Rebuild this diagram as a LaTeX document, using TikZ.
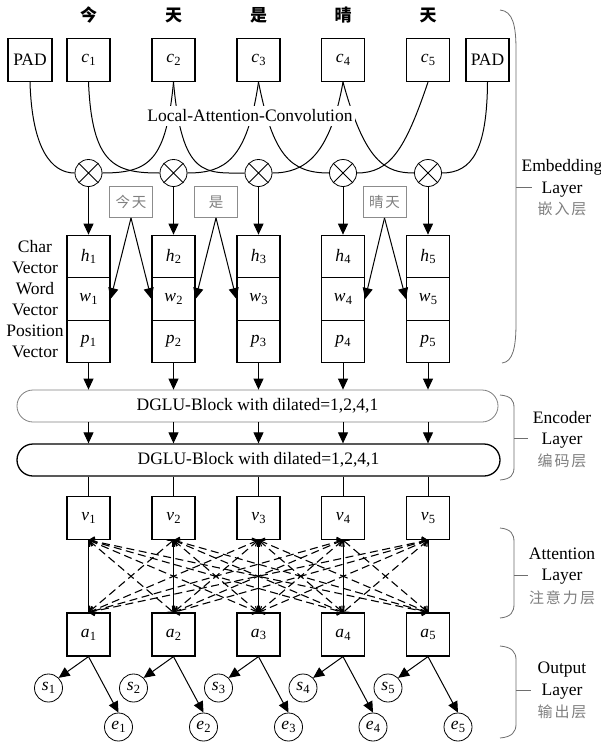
\documentclass[tikz,border=0pt]{standalone}
\usepackage{fontspec}
\setmainfont{Liberation Serif}
\newfontfamily\cjk{Noto Sans CJK SC}
\usetikzlibrary{arrows.meta}
\definecolor{gtxt}{HTML}{7F7F7F}
\definecolor{gbox}{HTML}{8C8C8C}
\definecolor{brc}{HTML}{6E6E6E}
\newcommand\vsub[2]{\textit{#1}\kern0.2pt\raisebox{-0.35ex}{\fontsize{12.5}{12.5}\selectfont #2}}
\begin{document}
\begin{tikzpicture}[x=1pt,y=-1pt,
 font=\fontsize{17.5}{20}\selectfont,
 every node/.style={inner sep=0pt},
 box/.style={draw, line width=1.2pt, minimum width=43pt, minimum height=43pt},
 cell/.style={draw, line width=1.2pt, minimum width=43pt, minimum height=42.5pt},
 gbx/.style={draw=gbox, line width=0.9pt, text=gtxt, minimum width=43pt, minimum height=31pt, font=\cjk\fontsize{14.5}{16}\selectfont},
 ln/.style={line width=1pt},
 arr/.style={line width=1pt, arrows={-Triangle[length=11pt,width=10pt]}},
 dsh/.style={line width=1.1pt, dash pattern=on 8pt off 4.5pt, arrows={Straight Barb[length=4.5pt,width=9pt]-Straight Barb[length=4.5pt,width=9pt]}},
 mul/.style={draw, circle, line width=0.8pt, minimum size=27pt},
 blk/.style={draw, rounded corners=16pt, minimum height=32pt},
 dot/.style={draw, circle, line width=0.8pt, minimum size=28pt},
 bracestyle/.style={draw=brc, line width=0.8pt},
 lab/.style={anchor=base},
 clab/.style={anchor=base, text=gtxt, font=\cjk\fontsize{15}{17}\selectfont},
]
\path[fill=white] (0,0) rectangle (601,742);
\useasboundingbox (0,0) rectangle (601,742);

% top characters
\foreach \i/\x/\ch in {1/88.5/今,2/173.5/天,3/258.5/是,4/343/晴,5/428/天}
  \node[font=\cjk\bfseries\fontsize{17}{17}\selectfont] (t\i) at (\x,15) {\ch};

% input boxes
\node[box, minimum width=44pt] (padL) at (30,60) {PAD};
\node[box] (padR) at (487.5,60) {PAD};
\foreach \i/\x in {1/88.5,2/173.5,3/258.5,4/343,5/428}{
  \node[box] (c\i) at (\x,60) {\vsub{c}{\i}};
  \node[mul] (m\i) at (\x,173) {};
  \draw[line width=0.8pt] (m\i.north west) -- (m\i.south east) (m\i.north east) -- (m\i.south west);
  \node[cell] (h\i) at (\x,256.5) {\vsub{h}{\i}};
  \node[cell] (w\i) at (\x,299) {\vsub{w}{\i}};
  \node[cell] (p\i) at (\x,341.5) {\vsub{p}{\i}};
  \draw[arr] (m\i.south) -- (h\i.north);
}

% local attention convolution curves
\draw[ln] (padL.south) .. controls (32,150) and (52,173) .. (m1.west);
\draw[ln] (c1.south) .. controls (92,165) and (115,173) .. (m2.west);
\draw[ln] (c2.south) .. controls (166,160) and (150,173) .. (m1.east);
\draw[ln] (c2.south) .. controls (182,178) and (205,173) .. (m3.west);
\draw[ln] (c3.south) .. controls (247,160) and (225,173) .. (m2.east);
\draw[ln] (c3.south) .. controls (273,155) and (290,173) .. (m4.west);
\draw[ln] (c4.south) .. controls (330,155) and (305,173) .. (m3.east);
\draw[ln] (c4.south) .. controls (365,162) and (385,173) .. (m5.west);
\draw[ln] (c5.south) .. controls (405,150) and (390,173) .. (m4.east);
\draw[ln] (padR.south) .. controls (487,150) and (472,173) .. (m5.east);
\node[fill=white, inner xsep=2pt, inner ysep=4pt] (lac) at (250,116) {Local-Attention-Convolution};

% word boxes
\node[gbx] (g1) at (131,202) {今\hspace{2pt}天};
\node[gbx] (g2) at (216,202) {是};
\node[gbx] (g3) at (384.5,202) {晴\hspace{2pt}天};
\draw[arr] (g1.south) -- (w1.east);
\draw[arr] (g1.south) -- (w2.west);
\draw[arr] (g2.south) -- (w2.east);
\draw[arr] (g2.south) -- (w3.west);
\draw[arr] (g3.south) -- (w4.east);
\draw[arr] (g3.south) -- (w5.west);

% left labels
\node[align=center, font=\fontsize{17.5}{21}\selectfont] (vlab) at (35,299.5) {Char\\Vector\\Word\\Vector\\Position\\Vector};

% encoder blocks
\node[blk, draw=gray, line width=0.8pt, minimum width=481pt] (b1) at (257.5,406) {DGLU-Block with dilated=1,2,4,1};
\node[blk, line width=1.3pt, minimum width=483pt] (b2) at (258.5,460) {DGLU-Block with dilated=1,2,4,1};

\foreach \i/\x in {1/88.5,2/173.5,3/258.5,4/343,5/428}{
  \draw[arr] (p\i.south) -- (p\i.south |- b1.north);
  \draw[arr] (p\i.south |- b1.south) -- (p\i.south |- b2.north);
  \node[box] (v\i) at (\x,518) {\vsub{v}{\i}};
  \node[box] (a\i) at (\x,634.5) {\vsub{a}{\i}};
  \draw[ln] (v\i.north |- b2.south) -- (v\i.north);
  \node[dot] (s\i) at ({\x-40},688) {\vsub{s}{\i}};
  \node[dot] (e\i) at ({\x+30},727) {\vsub{e}{\i}};
  \draw[arr] (a\i.south) -- (s\i.45);
  \draw[arr] (a\i.south) -- (e\i.north);
}

% attention connections
\foreach \i in {1,...,5}{
  \foreach \j in {1,...,5}{
    \ifnum\i=\j
      \draw[ln] (v\i.south) -- (a\j.north);
    \else
      \draw[dsh] (v\i.south) -- (a\j.north);
    \fi
  }
}

% braces
\draw[bracestyle] (500,10) .. controls (513,11) and (516,26) .. (516,50) -- (516,323) .. controls (516,347) and (513,362) .. (502,363);
\draw[bracestyle] (516,187) -- (532,187);
\draw[bracestyle] (500,395) .. controls (511,396) and (514,400) .. (514,408) -- (514,467) .. controls (514,475) and (511,479) .. (500,480);
\draw[bracestyle] (514,438) -- (528,438);
\draw[bracestyle] (500,528) .. controls (511,529) and (514,534) .. (514,542) -- (514,604) .. controls (514,612) and (511,617) .. (500,618);
\draw[bracestyle] (514,575) -- (528,575);
\draw[bracestyle] (500,646) .. controls (512,647) and (516,652) .. (516,660) -- (516,724) .. controls (516,732) and (512,737) .. (500,738);
\draw[bracestyle] (516,690) -- (531,690);

% layer labels
\node[lab] (l1a) at (562,171) {Embedding};
\node[lab] (l1b) at (562,193) {Layer};
\node[clab] (l1c) at (562,214) {嵌\hspace{2pt}入\hspace{2pt}层};
\node[lab] (l2a) at (562,423) {Encoder};
\node[lab] (l2b) at (562,444) {Layer};
\node[clab] (l2c) at (562,466) {编\hspace{2pt}码\hspace{2pt}层};
\node[lab] (l3a) at (562,559) {Attention};
\node[lab] (l3b) at (562,580) {Layer};
\node[clab] (l3c) at (562,603) {注\hspace{2pt}意\hspace{2pt}力\hspace{2pt}层};
\node[lab] (l4a) at (562,673) {Output};
\node[lab] (l4b) at (562,695) {Layer};
\node[clab] (l4c) at (562,717) {输\hspace{2pt}出\hspace{2pt}层};
\end{tikzpicture}
\end{document}
